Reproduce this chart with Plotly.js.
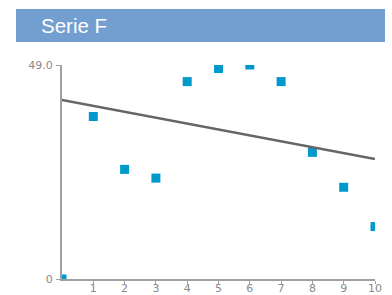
<!DOCTYPE html>
<html>
<head>
<meta charset="utf-8">
<script src="https://cdn.plot.ly/plotly-3.0.1.min.js"></script>
<style>html,body{margin:0;padding:0;background:#fff;}#chart{width:392px;height:295px;}</style>
</head>
<body>
<div id="chart"></div>
<script>
var chartTitle = "Serie F";
var xValues = [0, 1, 2, 3, 4, 5, 6, 7, 8, 9, 10];
var yValues = [0, 37.2, 25.1, 23.1, 45.2, 48.2, 49.0, 45.2, 29.0, 21.0, 12.0];
var trendX = [0, 10];
var trendY = [41.0, 27.5];
var xTickVals = [1, 2, 3, 4, 5, 6, 7, 8, 9, 10];
var xTickText = ["1", "2", "3", "4", "5", "6", "7", "8", "9", "10"];
var yTickVals = [0, 49];
var yTickText = ["0", "49.0"];

var tickFont = {family: "DejaVu Sans", size: 11, color: "#8a8a8a"};

var traces = [
  {
    x: xValues, y: yValues, type: "scatter", mode: "markers",
    marker: {symbol: "square", size: 9, color: "#0099cc"},
    cliponaxis: true, hoverinfo: "none", showlegend: false
  },
  {
    x: trendX, y: trendY, type: "scatter", mode: "lines",
    line: {color: "#666666", width: 2.5},
    hoverinfo: "none", showlegend: false
  }
];

var layout = {
  width: 392, height: 295,
  margin: {l: 62, r: 17, t: 65, b: 16, pad: 0},
  paper_bgcolor: "#ffffff", plot_bgcolor: "#ffffff",
  showlegend: false,
  title: {
    text: chartTitle, x: 41/392, xanchor: "left", xref: "container",
    y: 1 - 25.5/295, yanchor: "middle", yref: "container",
    font: {family: "Liberation Sans, Arial", size: 20.5, color: "#ffffff"}
  },
  shapes: [{
    type: "rect", xref: "paper", yref: "paper", layer: "below",
    x0: (16-62)/313, x1: (385-62)/313, y0: (279-42)/214, y1: (279-9)/214,
    fillcolor: "#729fcf", line: {width: 0}
  }],
  xaxis: {
    range: [0, 10], showgrid: false, zeroline: false,
    showline: true, linecolor: "#a0a0a0", linewidth: 2,
    ticks: "outside", ticklen: 3, tickwidth: 1, tickcolor: "#a0a0a0",
    ticklabelstandoff: -5,
    tickvals: xTickVals, ticktext: xTickText, tickfont: tickFont,
    automargin: false, fixedrange: true
  },
  yaxis: {
    range: [0, 49], showgrid: false, zeroline: false,
    showline: true, linecolor: "#a0a0a0", linewidth: 2,
    ticks: "outside", ticklen: 4, tickwidth: 1, tickcolor: "#a0a0a0",
    ticklabelstandoff: 1,
    tickvals: yTickVals, ticktext: yTickText, tickfont: tickFont,
    automargin: false, fixedrange: true
  }
};

Plotly.newPlot("chart", traces, layout, {displayModeBar: false, staticPlot: true});
</script>
</body>
</html>
